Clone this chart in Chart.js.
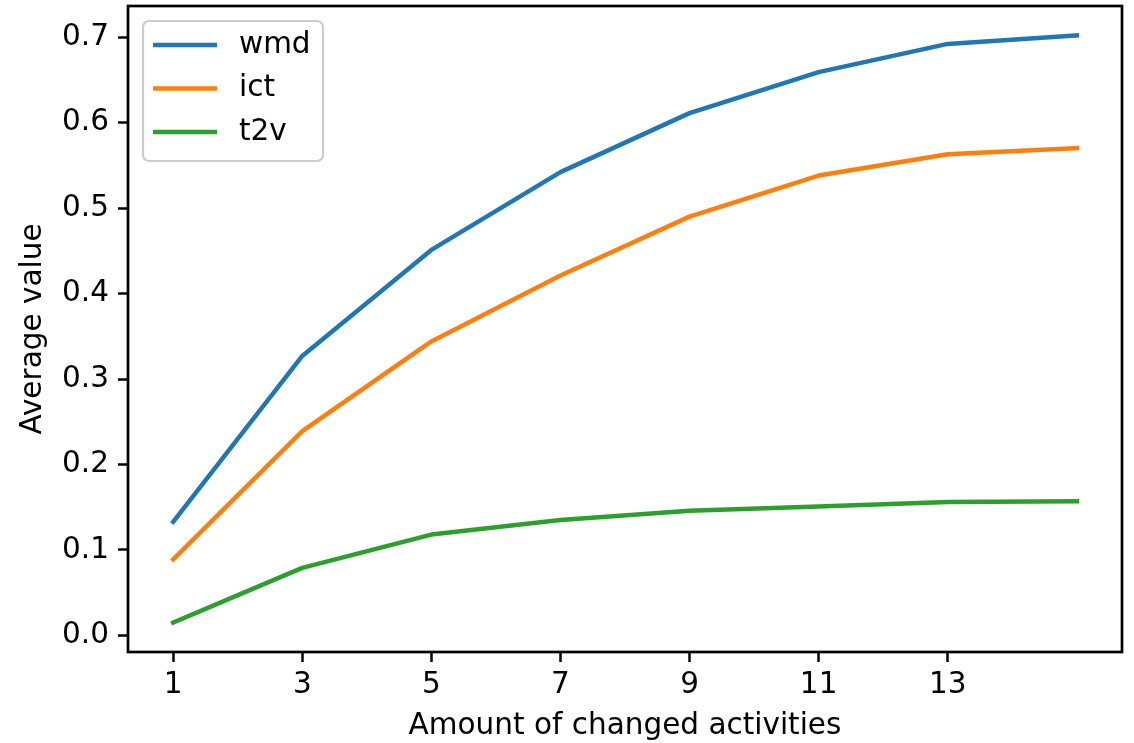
<!DOCTYPE html>
<html>
<head>
<meta charset="utf-8">
<script src="https://cdn.jsdelivr.net/npm/chart.js@4.4.1/dist/chart.umd.min.js"></script>
<style>
  html, body { margin: 0; padding: 0; background: #fff; }
  #wrap { width: 1134px; height: 743px; }
</style>
</head>
<body>
<div id="wrap"><canvas id="chart" width="1134" height="743"></canvas></div>
<script>
// amount of changed activities (x) and the averages
const amounts = [1, 3, 5, 7, 9, 11, 13, 15];
const xTicks = [1, 3, 5, 7, 9, 11, 13];
const yTicks = [0, 0.1, 0.2, 0.3, 0.4, 0.5, 0.6, 0.7];

const wmd = [0.133, 0.327, 0.451, 0.542, 0.611, 0.659, 0.692, 0.702];
const ict = [0.089, 0.239, 0.344, 0.421, 0.490, 0.538, 0.563, 0.570];
const t2v = [0.015, 0.079, 0.118, 0.135, 0.146, 0.151, 0.156, 0.157];

const seriesNames = ['wmd', 'ict', 't2v'];
const seriesColors = ['#1f77b4', '#ff7f0e', '#2ca02c'];

const FONT = '"DejaVu Sans", "Liberation Sans", sans-serif';
const FS = 29.5;

// matplotlib style 5% margins
const allY = wmd.concat(ict, t2v);
const yLo = Math.min(...allY), yHi = Math.max(...allY);
const xLo = Math.min(...amounts), xHi = Math.max(...amounts);
const yPad = (yHi - yLo) * 0.05, xPad = (xHi - xLo) * 0.05;

const toPoints = vals => vals.map((v, i) => ({ x: amounts[i], y: v }));

// full box around the plot area
const frame = {
  id: 'frame',
  afterDatasetsDraw(chart) {
    const { ctx, chartArea: a } = chart;
    ctx.save();
    ctx.strokeStyle = '#000';
    ctx.lineWidth = 2.7;
    ctx.strokeRect(a.left, a.top, a.right - a.left, a.bottom - a.top);
    ctx.restore();
  }
};

// legend inside the axes, upper left
const insideLegend = {
  id: 'insideLegend',
  afterDraw(chart) {
    const { ctx, chartArea: a } = chart;
    const x0 = a.left + 15, y0 = a.top + 15;
    ctx.save();
    ctx.beginPath();
    ctx.roundRect(x0, y0, 180, 140, 6);
    ctx.fillStyle = 'rgba(255,255,255,0.8)';
    ctx.fill();
    ctx.strokeStyle = '#cccccc';
    ctx.lineWidth = 2.2;
    ctx.stroke();
    chart.data.datasets.forEach((ds, i) => {
      const y = y0 + 24 + i * 43.5;
      ctx.beginPath();
      ctx.moveTo(x0 + 10, y);
      ctx.lineTo(x0 + 74, y);
      ctx.strokeStyle = ds.borderColor;
      ctx.lineWidth = 4.5;
      ctx.stroke();
      ctx.fillStyle = '#000';
      ctx.font = FS + 'px ' + FONT;
      ctx.textBaseline = 'middle';
      ctx.fillText(ds.label, x0 + 96, y);
    });
    ctx.restore();
  }
};

new Chart(document.getElementById('chart'), {
  type: 'line',
  data: {
    datasets: [wmd, ict, t2v].map((vals, i) => ({
      label: seriesNames[i],
      data: toPoints(vals),
      borderColor: seriesColors[i],
      backgroundColor: seriesColors[i],
      borderWidth: 4.5,
      borderJoinStyle: 'round',
      borderCapStyle: 'square',
      pointRadius: 0,
      tension: 0,
      fill: false
    }))
  },
  options: {
    responsive: false,
    devicePixelRatio: 1,
    animation: false,
    layout: { padding: { left: 0, top: 6, right: 12, bottom: 0 } },
    plugins: { legend: { display: false }, tooltip: { enabled: false } },
    scales: {
      x: {
        type: 'linear',
        min: xLo - xPad,
        max: xHi + xPad,
        border: { display: false },
        grid: { drawOnChartArea: false, drawTicks: true, tickLength: 10, tickColor: '#000', tickWidth: 2.5 },
        ticks: {
          color: '#000',
          font: { family: FONT, size: FS },
          padding: 6,
          maxRotation: 0,
          callback: v => String(v)
        },
        afterBuildTicks: s => { s.ticks = xTicks.map(v => ({ value: v })); },
        afterFit: s => { s.height = 91; s.paddingLeft = 0; s.paddingRight = 0; },
        title: {
          display: true,
          text: 'Amount of changed activities',
          color: '#000',
          font: { family: FONT, size: FS },
          padding: { top: 0, bottom: -1 }
        }
      },
      y: {
        type: 'linear',
        min: yLo - yPad,
        max: yHi + yPad,
        border: { display: false },
        grid: { drawOnChartArea: false, drawTicks: true, tickLength: 10, tickColor: '#000', tickWidth: 2.5 },
        ticks: {
          color: '#000',
          font: { family: FONT, size: FS },
          padding: 9,
          callback: v => v.toFixed(1)
        },
        afterBuildTicks: s => { s.ticks = yTicks.map(v => ({ value: v })); },
        afterFit: s => { s.width = 128; s.paddingTop = 0; s.paddingBottom = 0; },
        title: {
          display: true,
          text: 'Average value',
          color: '#000',
          font: { family: FONT, size: FS },
          padding: { top: 16, bottom: 0 }
        }
      }
    }
  },
  plugins: [frame, insideLegend]
});
</script>
</body>
</html>
